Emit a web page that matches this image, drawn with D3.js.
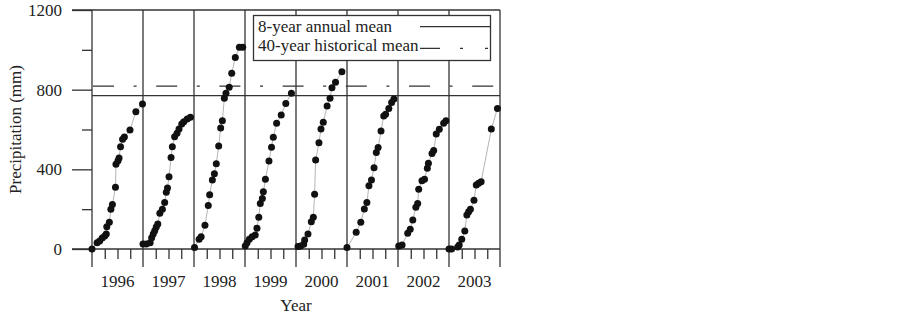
<!DOCTYPE html>
<html>
<head>
<meta charset="utf-8">
<script src="https://cdn.jsdelivr.net/npm/d3@7"></script>
<style>
  body { margin: 0; background: #fff; }
  text { font-family: "Liberation Serif", "Times New Roman", serif; fill: #222; }
</style>
</head>
<body>
<div id="chart"></div>
<script>
// DATA (x = fraction of the year, y = cumulative precipitation in mm)
const years = [1996, 1997, 1998, 1999, 2000, 2001, 2002, 2003]
const yMajor = [0, 400, 800, 1200]
const yMinor = [200, 600, 1000]
const annualMean8 = 770
const historicalMean40 = 818

const cum1996 = [[0,0],[0.10,32],[0.15,40],[0.2,55],[0.25,65],[0.28,75],[0.29,112],[0.34,134],[0.37,199],[0.40,223],[0.46,310],[0.47,425],[0.51,443],[0.53,457],[0.56,514],[0.60,551],[0.635,562],[0.745,597],[0.86,689],[0.99,728]]
const cum1997 = [[0,25],[0.065,25],[0.14,32],[0.17,57],[0.2,75],[0.23,92],[0.26,110],[0.29,125],[0.33,179],[0.38,199],[0.425,233],[0.457,285],[0.48,306],[0.51,363],[0.55,460],[0.575,514],[0.62,564],[0.667,581],[0.706,602],[0.76,628],[0.80,639],[0.867,653],[0.93,661]]
const cum1998 = [[0.01,8],[0.1,49],[0.14,62],[0.215,119],[0.28,219],[0.307,273],[0.36,346],[0.40,378],[0.437,428],[0.484,517],[0.523,607],[0.556,644],[0.595,757],[0.627,782],[0.69,812],[0.74,882],[0.81,962],[0.89,1013],[0.955,1013]]
const cum1999 = [[0.005,15],[0.04,32],[0.085,49],[0.14,62],[0.2,70],[0.235,104],[0.27,159],[0.30,229],[0.34,254],[0.36,288],[0.40,350],[0.47,442],[0.52,511],[0.555,561],[0.62,631],[0.71,673],[0.80,731],[0.91,782]]
const cum2000 = [[0.04,12],[0.09,15],[0.15,24],[0.17,45],[0.235,75],[0.30,137],[0.34,159],[0.365,275],[0.385,447],[0.45,534],[0.49,602],[0.535,636],[0.61,718],[0.667,757],[0.705,810],[0.775,837],[0.90,890]]
const cum2001 = [[0,7],[0.18,84],[0.27,134],[0.34,201],[0.39,233],[0.43,318],[0.48,346],[0.53,408],[0.575,484],[0.61,509],[0.667,592],[0.72,668],[0.757,676],[0.82,706],[0.875,735],[0.92,753]]
const cum2002 = [[0.014,15],[0.08,20],[0.19,79],[0.24,99],[0.29,146],[0.35,209],[0.386,229],[0.406,300],[0.47,343],[0.52,350],[0.575,405],[0.596,430],[0.667,480],[0.70,494],[0.75,577],[0.81,601],[0.895,631],[0.94,644]]
const cum2003 = [[0,0],[0.05,0],[0.17,10],[0.20,20],[0.25,49],[0.31,90],[0.35,171],[0.385,187],[0.42,199],[0.49,245],[0.535,321],[0.58,330],[0.63,338],[0.83,602],[0.95,706]]

const series = [cum1996, cum1997, cum1998, cum1999, cum2000, cum2001, cum2002, cum2003]

const width = 899, height = 315
const mLeft = 92, mRight = 500, mTop = 10, mBottom = 249
const ink = "#333"

const svg = d3.select("#chart").append("svg")
    .attr("width", width)
    .attr("height", height)

// SCALES
const xScale = d3.scaleLinear().domain([years[0], years[years.length - 1] + 1]).range([mLeft, mRight])
const yScale = d3.scaleLinear().domain([0, 1200]).range([mBottom, mTop])

// Y AXIS (major ticks with labels, minor ticks without)
svg.append("g")
    .attr("transform", `translate(${mLeft},0)`)
    .call(d3.axisLeft(yScale).tickValues(yMajor).tickSize(20).tickPadding(10).tickFormat(d3.format("d")))
    .call(g => g.select(".domain").remove())
    .call(g => g.selectAll("line").attr("stroke", ink).attr("stroke-width", 1.3))
    .call(g => g.selectAll("text").attr("font-size", 17).attr("fill", "#222")
        .style("font-family", "'Liberation Serif', serif"))

svg.append("g")
    .attr("transform", `translate(${mLeft},0)`)
    .call(d3.axisLeft(yScale).tickValues(yMinor).tickSize(10).tickFormat(""))
    .call(g => g.select(".domain").remove())
    .call(g => g.selectAll("line").attr("stroke", ink).attr("stroke-width", 1.3))

// X AXIS quarter ticks
const quarters = []
years.forEach(y => [0.25, 0.5, 0.75].forEach(q => quarters.push(y + q)))
svg.append("g")
    .attr("transform", `translate(0,${mBottom})`)
    .call(d3.axisBottom(xScale).tickValues(quarters).tickSize(10).tickFormat(""))
    .call(g => g.select(".domain").remove())
    .call(g => g.selectAll("line").attr("stroke", ink).attr("stroke-width", 1.3))

// frame: top and bottom lines
svg.append("line").attr("x1", 72).attr("x2", mRight).attr("y1", mTop).attr("y2", mTop)
    .attr("stroke", ink).attr("stroke-width", 1.3)
svg.append("line").attr("x1", 72).attr("x2", mRight).attr("y1", mBottom).attr("y2", mBottom)
    .attr("stroke", ink).attr("stroke-width", 1.3)

// year boundaries
svg.append("g")
    .selectAll("line")
    .data(years.concat([years[years.length - 1] + 1]))
    .join("line")
    .attr("x1", d => xScale(d)).attr("x2", d => xScale(d))
    .attr("y1", mTop).attr("y2", 267)
    .attr("stroke", ink).attr("stroke-width", 1.3)

// year labels
svg.append("g")
    .selectAll("text")
    .data(years)
    .join("text")
    .attr("x", d => xScale(d + 0.5))
    .attr("y", 287)
    .attr("text-anchor", "middle")
    .attr("font-size", 17)
    .text(d => d)

// MEAN LINES
svg.append("line")
    .attr("x1", mLeft).attr("x2", mRight)
    .attr("y1", yScale(annualMean8)).attr("y2", yScale(annualMean8))
    .attr("stroke", ink).attr("stroke-width", 1.2)

svg.append("line")
    .attr("x1", mLeft + 1).attr("x2", mRight)
    .attr("y1", yScale(historicalMean40)).attr("y2", yScale(historicalMean40))
    .attr("stroke", ink).attr("stroke-width", 1.2)
    .attr("stroke-dasharray", "21,19.6,3,19.6")

// CUMULATIVE SERIES, one per year
series.forEach((s, i) => {
    const g = svg.append("g")
    g.append("path")
        .attr("d", d3.line().x(d => xScale(years[i] + d[0])).y(d => yScale(d[1]))(s))
        .attr("fill", "none")
        .attr("stroke", "#b5b5b5")
        .attr("stroke-width", 1)
    g.selectAll("circle")
        .data(s)
        .join("circle")
        .attr("cx", d => xScale(years[i] + d[0]))
        .attr("cy", d => yScale(d[1]))
        .attr("r", 3.5)
        .attr("fill", "#111")
})

// LEGEND
const legend = svg.append("g")
legend.append("rect")
    .attr("x", 253.5).attr("y", 15.5).attr("width", 237).attr("height", 45)
    .attr("fill", "#fff").attr("stroke", ink).attr("stroke-width", 1.3)
legend.append("text").attr("x", 258).attr("y", 32).attr("font-size", 17).text("8-year annual mean")
legend.append("text").attr("x", 258).attr("y", 51).attr("font-size", 17).text("40-year historical mean")
legend.append("line").attr("x1", 420).attr("x2", 490).attr("y1", 26.7).attr("y2", 26.7)
    .attr("stroke", ink).attr("stroke-width", 1.2)
legend.append("line").attr("x1", 420).attr("x2", 490).attr("y1", 48.3).attr("y2", 48.3)
    .attr("stroke", ink).attr("stroke-width", 1.2)
    .attr("stroke-dasharray", "20,20,3,22,3,20")

// AXIS TITLES
svg.append("text")
    .attr("x", (mLeft + mRight) / 2).attr("y", 311)
    .attr("text-anchor", "middle").attr("font-size", 17)
    .text("Year")

svg.append("text")
    .attr("transform", `translate(21,${(mTop + mBottom) / 2}) rotate(-90)`)
    .attr("text-anchor", "middle").attr("font-size", 17)
    .text("Precipitation (mm)")
</script>
</body>
</html>
